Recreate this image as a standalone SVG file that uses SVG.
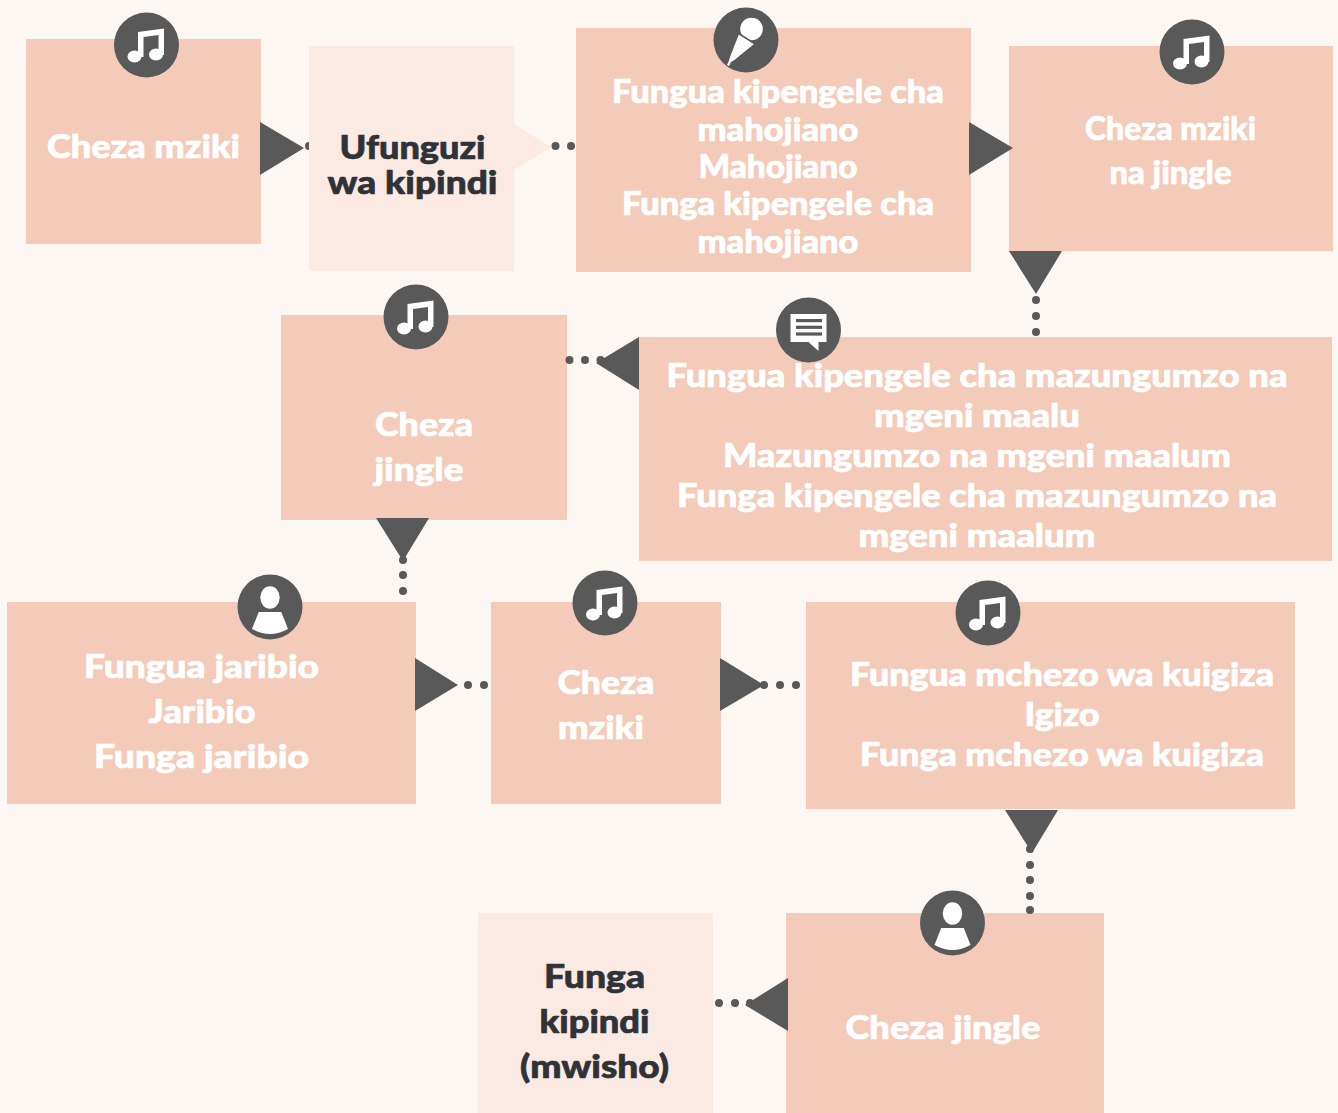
<svg xmlns="http://www.w3.org/2000/svg" width="1338" height="1113" viewBox="0 0 1338 1113">
<style>
.box{fill:#f4cbb9}.lite{fill:#fbeae4}.tri{fill:#595959}.dot{fill:#595959}.disc{fill:#595959}
text{font-family:"Lato","Noto Sans","Liberation Sans",sans-serif;font-weight:900;text-anchor:middle;stroke-width:.7px;stroke-linejoin:round}
.w{fill:#fff;stroke:#fff;font-size:32px}.d{fill:#2f3338;stroke:#2f3338;font-size:33px}
.ic{fill:#fff}
</style>
<defs>
<symbol id="music" overflow="visible"><path class="ic" d="M-8.500,-13 L17.500,-16.500 V10 H12 V-10 L-3,-8 V12 H-8.500 Z"/><ellipse class="ic" cx="-12" cy="11.500" rx="7" ry="6"/><ellipse class="ic" cx="9.500" cy="9.500" rx="7" ry="6"/></symbol>
<symbol id="user" overflow="visible"><ellipse class="ic" cx="0" cy="-9.500" rx="9.700" ry="11.200"/><path class="ic" d="M-11.300,5 H11.300 L18,22 Q0,32 -18,22 Z"/></symbol>
</defs>
<rect width="1338" height="1113" fill="#fdf7f4"/>
<g id="n1"><rect class="box" x="26" y="39" width="235" height="205"/><circle class="disc" cx="146.500" cy="45" r="32.500"/><use href="#music" x="146.500" y="45"/><text class="w" x="143.500" y="158" textLength="193" lengthAdjust="spacingAndGlyphs">Cheza mziki</text></g>
<g id="n2"><rect class="lite" x="309" y="46" width="205" height="225"/><text class="d" x="412.500" y="159" textLength="146" lengthAdjust="spacingAndGlyphs">Ufunguzi</text><text class="d" x="412.500" y="194" textLength="170" lengthAdjust="spacingAndGlyphs">wa kipindi</text></g>
<g id="n3"><rect class="box" x="576" y="28" width="395" height="244"/><circle class="disc" cx="746" cy="40" r="32.500"/>
<g transform="translate(746,40)"><path class="ic" d="M-7,-6 L8,4 L-11,19.500 L-15,22 L-17,26 L-19,25 L-17,20.500 L-16,17 Z"/><circle class="ic" cx="5.500" cy="-11" r="11.300"/><path d="M-7.500,-6.500 L8.500,3.500" stroke="#595959" stroke-width="1.500" fill="none"/></g>
<text class="w" x="778" y="102.500" textLength="332" lengthAdjust="spacingAndGlyphs">Fungua kipengele cha</text><text class="w" x="778" y="140.500" textLength="161" lengthAdjust="spacingAndGlyphs">mahojiano</text><text class="w" x="778" y="177.500" textLength="159" lengthAdjust="spacingAndGlyphs">Mahojiano</text><text class="w" x="778" y="214.500" textLength="312" lengthAdjust="spacingAndGlyphs">Funga kipengele cha</text><text class="w" x="778" y="252.500" textLength="161" lengthAdjust="spacingAndGlyphs">mahojiano</text></g>
<g id="n4"><rect class="box" x="1009" y="46" width="324" height="205"/><circle class="disc" cx="1192" cy="52" r="32.500"/><use href="#music" x="1192" y="52"/><text class="w" x="1170.500" y="139.500" textLength="171" lengthAdjust="spacingAndGlyphs">Cheza mziki</text><text class="w" x="1170.500" y="184" textLength="122" lengthAdjust="spacingAndGlyphs">na jingle</text></g>
<g id="n5"><rect class="box" x="639" y="337" width="693" height="224"/><circle class="disc" cx="808.500" cy="330" r="32.500"/>
<g transform="translate(808.500,330)"><path class="ic" d="M-18,-16 H18 V12 H10 V21 L0,12 H-18 Z"/><rect class="disc" x="-12.500" y="-11" width="26" height="3.200"/><rect class="disc" x="-12.500" y="-4.300" width="26" height="3.200"/><rect class="disc" x="-12.500" y="2.400" width="26" height="3.200"/></g>
<text class="w" x="977" y="387" textLength="621" lengthAdjust="spacingAndGlyphs">Fungua kipengele cha mazungumzo na</text><text class="w" x="977" y="427" textLength="206" lengthAdjust="spacingAndGlyphs">mgeni maalu</text><text class="w" x="977" y="467" textLength="508" lengthAdjust="spacingAndGlyphs">Mazungumzo na mgeni maalum</text><text class="w" x="977" y="507" textLength="600" lengthAdjust="spacingAndGlyphs">Funga kipengele cha mazungumzo na</text><text class="w" x="977" y="547" textLength="237" lengthAdjust="spacingAndGlyphs">mgeni maalum</text></g>
<g id="n6"><rect class="box" x="281" y="315" width="286" height="205"/><circle class="disc" cx="416" cy="317" r="32.500"/><use href="#music" x="416" y="317"/><text class="w" x="424" y="436" textLength="98" lengthAdjust="spacingAndGlyphs">Cheza</text><text class="w" x="419" y="481" textLength="89" lengthAdjust="spacingAndGlyphs">jingle</text></g>
<g id="n7"><rect class="box" x="7" y="602" width="409" height="202"/><circle class="disc" cx="270" cy="607" r="32.500"/><use href="#user" x="270" y="607"/><text class="w" x="201.500" y="678" textLength="235" lengthAdjust="spacingAndGlyphs">Fungua jaribio</text><text class="w" x="202" y="723" textLength="107" lengthAdjust="spacingAndGlyphs">Jaribio</text><text class="w" x="201.500" y="768" textLength="215" lengthAdjust="spacingAndGlyphs">Funga jaribio</text></g>
<g id="n8"><rect class="box" x="491" y="602" width="230" height="202"/><circle class="disc" cx="605" cy="603" r="32.500"/><use href="#music" x="605" y="603"/><text class="w" x="606" y="694" textLength="97" lengthAdjust="spacingAndGlyphs">Cheza</text><text class="w" x="601" y="739" textLength="86" lengthAdjust="spacingAndGlyphs">mziki</text></g>
<g id="n9"><rect class="box" x="806" y="602" width="489" height="207"/><circle class="disc" cx="988" cy="613" r="32.500"/><use href="#music" x="988" y="613"/><text class="w" x="1062" y="685.500" textLength="424" lengthAdjust="spacingAndGlyphs">Fungua mchezo wa kuigiza</text><text class="w" x="1062" y="725.500" textLength="75" lengthAdjust="spacingAndGlyphs">Igizo</text><text class="w" x="1062" y="765.500" textLength="404" lengthAdjust="spacingAndGlyphs">Funga mchezo wa kuigiza</text></g>
<g id="n10"><rect class="box" x="786" y="913" width="318" height="200"/><circle class="disc" cx="952.500" cy="923" r="32.500"/><use href="#user" x="952.500" y="923"/><text class="w" x="943" y="1039" textLength="195" lengthAdjust="spacingAndGlyphs">Cheza jingle</text></g>
<g id="n11"><rect class="lite" x="478" y="913" width="235" height="200"/><text class="d" x="594.500" y="988" textLength="101" lengthAdjust="spacingAndGlyphs">Funga</text><text class="d" x="594.500" y="1033" textLength="110" lengthAdjust="spacingAndGlyphs">kipindi</text><text class="d" x="594.500" y="1078" textLength="149" lengthAdjust="spacingAndGlyphs">(mwisho)</text></g>
<g id="connectors">
<path class="lite" d="M514,124 L551,147 L514,170 Z"/>
<g>
<path class="dot" d="M309,142 A4,4 0 0 0 309,150 Z"/>
<circle class="dot" cx="555.500" cy="146" r="4"/><circle class="dot" cx="571" cy="146" r="4"/>
<circle class="dot" cx="1036" cy="300" r="4"/><circle class="dot" cx="1036" cy="316" r="4"/><circle class="dot" cx="1036" cy="332" r="4"/>
<circle class="dot" cx="569.500" cy="360" r="4"/><circle class="dot" cx="585" cy="360" r="4"/><circle class="dot" cx="600.500" cy="360" r="4"/>
<circle class="dot" cx="403" cy="560" r="4"/><circle class="dot" cx="403" cy="575" r="4"/><circle class="dot" cx="403" cy="591" r="4"/>
<circle class="dot" cx="468" cy="685" r="4"/><circle class="dot" cx="484" cy="685" r="4"/>
<circle class="dot" cx="764" cy="685" r="4"/><circle class="dot" cx="780" cy="685" r="4"/><circle class="dot" cx="796" cy="685" r="4"/>
<circle class="dot" cx="1030" cy="849" r="4"/><circle class="dot" cx="1030" cy="865" r="4"/><circle class="dot" cx="1030" cy="880" r="4"/><circle class="dot" cx="1030" cy="896" r="4"/><circle class="dot" cx="1030" cy="910" r="4"/>
<circle class="dot" cx="719" cy="1003" r="4"/><circle class="dot" cx="735" cy="1003" r="4"/><circle class="dot" cx="750" cy="1003" r="4"/>
</g>
<path class="tri" d="M260,122 L304,148 L260,175 Z"/>
<path class="tri" d="M969,122 L1013,148 L969,175 Z"/>
<path class="tri" d="M1009,251 L1062,251 L1036,294 Z"/>
<path class="tri" d="M639,337 L596,363 L639,390 Z"/>
<path class="tri" d="M376,518 L429,518 L403,561 Z"/>
<path class="tri" d="M415,658 L458,685 L415,711 Z"/>
<path class="tri" d="M720,658 L764,685 L720,711 Z"/>
<path class="tri" d="M1005,810 L1058,810 L1032,853 Z"/>
<path class="tri" d="M788,978 L745,1005 L788,1031 Z"/>
</g>
</svg>
